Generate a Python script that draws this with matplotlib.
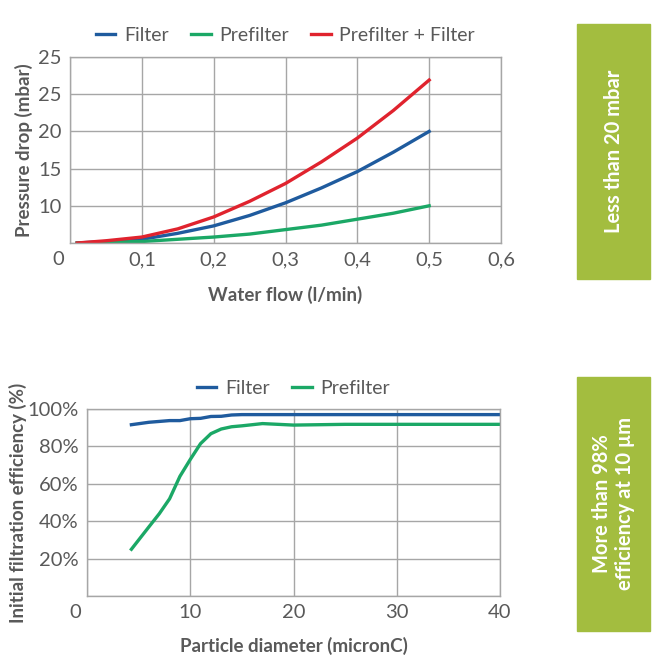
import matplotlib.pyplot as plt
from matplotlib.transforms import ScaledTranslation
from matplotlib.patches import Rectangle

plt.rcParams['font.family'] = ['Lato', 'DejaVu Sans']

# top chart: pressure drop vs water flow
flow = [0.01, 0.05, 0.1, 0.15, 0.2, 0.25, 0.3, 0.35, 0.4, 0.45, 0.5]
filter_drop = [5.0, 5.2, 5.5, 6.3, 7.3, 8.7, 10.4, 12.4, 14.6, 17.2, 20.0]
prefilter_drop = [5.0, 5.1, 5.2, 5.5, 5.8, 6.2, 6.8, 7.4, 8.2, 9.0, 10.0]
both_drop = [5.0, 5.3, 5.8, 6.9, 8.5, 10.6, 13.0, 15.9, 19.1, 22.8, 26.9]
drop_ticks = [5, 10, 15, 20, 25, 30]
drop_ticklabels = ['', '10', '15', '20', '25', '25']
flow_ticks = [0, 0.1, 0.2, 0.3, 0.4, 0.5, 0.6]
flow_ticklabels = ['0', '0,1', '0,2', '0,3', '0,4', '0,5', '0,6']

# bottom chart: filtration efficiency vs particle size
size_f = [4.3, 6, 8, 9, 10, 11, 12, 13, 14, 15, 20, 30, 40]
eff_f = [91.6, 92.9, 93.8, 93.8, 94.8, 95.0, 96.0, 96.1, 96.8, 97.0, 97.0, 97.0, 97.0]
size_p = [4.3, 6, 7, 8, 9, 10, 11, 12, 13, 14, 15, 17, 20, 25, 30, 40]
eff_p = [25, 37, 44, 52, 64, 73, 81.5, 86.8, 89.3, 90.5, 91.0, 92.2, 91.4, 91.8, 91.8, 91.8]
eff_ticks = [0, 20, 40, 60, 80, 100]
eff_ticklabels = ['', '20%', '40%', '60%', '80%', '100%']
size_ticks = [0, 10, 20, 30, 40]

blue = '#1F5B9E'
green = '#1BA866'
red = '#E0232E'
grey = '#595959'
gridc = '#A6A6A6'
panel = '#A3BD3F'

W, H = 656, 667
fig = plt.figure(figsize=(W / 100, H / 100), dpi=100)


def px_axes(l, t, r, b):
    return fig.add_axes([l / W, 1 - b / H, (r - l) / W, (b - t) / H])


def style(ax):
    ax.grid(True, color=gridc, linewidth=1)
    for s in ax.spines.values():
        s.set_color(gridc)
        s.set_linewidth(1)
    ax.tick_params(length=0, pad=6, labelsize=14.5, labelcolor=grey)
    ax.set_axisbelow(True)
    # shift the "0" label left like the original
    lbl = ax.get_xticklabels()[0]
    lbl.set_transform(lbl.get_transform() + ScaledTranslation(-12 / 100, 0, fig.dpi_scale_trans))


leg_kw = dict(loc='center', frameon=False, fontsize=14, labelcolor=grey,
              handlelength=1.0, columnspacing=1.15, handletextpad=0.45)

ax1 = px_axes(70, 57, 501, 243)
ax1.plot(flow, filter_drop, color=blue, lw=2.4, label='Filter')
ax1.plot(flow, prefilter_drop, color=green, lw=2.4, label='Prefilter')
ax1.plot(flow, both_drop, color=red, lw=2.4, label='Prefilter + Filter')
ax1.set_xlim(0, 0.6)
ax1.set_ylim(5, 30)
ax1.set_yticks(drop_ticks, drop_ticklabels)
ax1.set_xticks(flow_ticks, flow_ticklabels)
style(ax1)
ax1.set_xlabel('Water flow (l/min)', fontsize=13.5, fontweight='bold', color=grey)
ax1.set_ylabel('Pressure drop (mbar)', fontsize=13.5, fontweight='bold', color=grey)
ax1.xaxis.set_label_coords(0.5, -0.228)
ax1.yaxis.set_label_coords(-0.086, 0.5)
ax1.legend(bbox_to_anchor=(0.5, 1.115), ncol=3, **leg_kw)

ax2 = px_axes(87, 409, 500, 596)
ax2.plot(size_f, eff_f, color=blue, lw=2.4, label='Filter')
ax2.plot(size_p, eff_p, color=green, lw=2.4, label='Prefilter')
ax2.set_xlim(0, 40)
ax2.set_ylim(0, 100)
ax2.set_yticks(eff_ticks, eff_ticklabels)
ax2.set_xticks(size_ticks)
style(ax2)
ax2.set_xlabel('Particle diameter (micronC)', fontsize=13.5, fontweight='bold', color=grey)
ax2.set_ylabel('Initial filtration efficiency (%)', fontsize=13.5, fontweight='bold', color=grey)
ax2.xaxis.set_label_coords(0.5, -0.22)
ax2.yaxis.set_label_coords(-0.146, 0.5)
ax2.legend(bbox_to_anchor=(0.5, 1.11), ncol=2, **leg_kw)

# green side panels
for t, b, txt in [(24, 279, 'Less than 20 mbar'),
                  (377, 631, 'More than 98%\nefficiency at 10 µm')]:
    fig.patches.append(Rectangle((577 / W, 1 - b / H), 73 / W, (b - t) / H,
                                 transform=fig.transFigure, color=panel, zorder=0))
    fig.text(613.5 / W, 1 - (t + b) / 2 / H, txt, rotation=90, ha='center', va='center',
             color='white', fontsize=14.5, fontweight='bold', linespacing=1.15)

fig.savefig('out.png', dpi=100)
